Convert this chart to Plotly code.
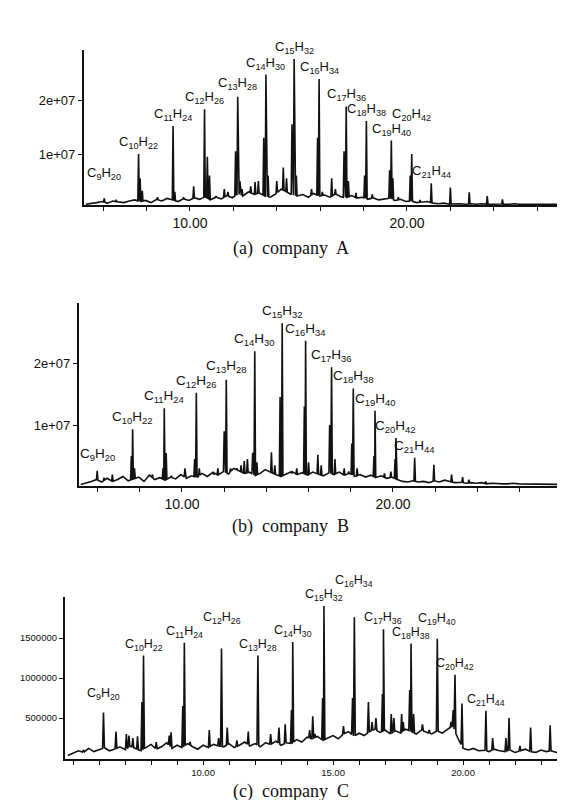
import numpy as np
import plotly.graph_objects as go

W, H = 565, 800

# ---------------- data (retention time in min, abundance) ----------------
carbons = [9, 10, 11, 12, 13, 14, 15, 16, 17, 18, 19, 20, 21]
hydrogens = [20, 22, 24, 26, 28, 30, 32, 34, 36, 38, 40, 42, 44]

# company A (abundance in units of 1e7)
a_main_t = [6.05, 7.63, 9.22, 10.67, 12.20, 13.50, 14.80, 15.95, 17.20, 18.13, 19.28, 20.22, 21.12]
a_main_h = [0.18, 1.00, 1.52, 1.83, 2.06, 2.47, 2.76, 2.39, 1.88, 1.61, 1.25, 1.00, 0.46]
a_minor_t = [6.6, 7.7, 7.8, 8.5, 8.9, 9.3, 9.7, 10.17, 10.8, 10.9, 11.2, 11.58, 11.75, 12.1, 12.3, 12.4,
             12.8, 13.0, 13.15, 13.4, 13.6, 14.0, 14.3, 14.45, 14.7, 14.9, 15.6, 15.88, 16.1, 16.53, 16.7,
             17.1, 17.3, 17.65, 18.05, 18.4, 19.2, 19.35, 19.6, 20.15, 20.6, 22.0, 22.87, 23.7, 24.4]
a_minor_h = [0.15, 0.55, 0.32, 0.20, 0.18, 0.30, 0.20, 0.40, 0.95, 0.60, 0.22, 0.35, 0.30, 1.05, 0.50, 0.35,
             0.40, 0.48, 0.50, 1.30, 0.60, 0.50, 0.75, 0.55, 1.55, 0.60, 0.35, 1.30, 0.30, 0.55, 0.35,
             1.05, 0.50, 0.28, 0.60, 0.25, 0.70, 0.55, 0.20, 0.60, 0.15, 0.38, 0.29, 0.22, 0.16]
a_base_start, a_base_step = 5.2, 0.25
a_base = [0.07, 0.08, 0.10, 0.12, 0.09, 0.13, 0.11, 0.10,
          0.13, 0.15, 0.12, 0.14, 0.10, 0.16, 0.13, 0.18,
          0.15, 0.12, 0.17, 0.14, 0.19, 0.16, 0.21, 0.15,
          0.20, 0.17, 0.23, 0.19, 0.26, 0.22, 0.30, 0.25,
          0.28, 0.22, 0.20, 0.26, 0.35, 0.30, 0.24, 0.22,
          0.25, 0.20, 0.27, 0.22, 0.24, 0.20, 0.26, 0.21,
          0.19, 0.23, 0.18, 0.20, 0.16, 0.19, 0.15, 0.17,
          0.18, 0.14, 0.16, 0.12, 0.13, 0.10, 0.11, 0.12,
          0.09, 0.08, 0.09, 0.07, 0.08, 0.08, 0.07, 0.08,
          0.07, 0.08, 0.07, 0.07, 0.08, 0.07, 0.07, 0.08,
          0.07, 0.07, 0.08, 0.07, 0.07, 0.07, 0.08, 0.07, 0.07, 0.07]

# company B (units of 1e7)
b_main_t = [5.98, 7.66, 9.16, 10.68, 12.10, 13.45, 14.75, 15.86, 17.09, 18.12, 19.15, 20.14, 21.03]
b_main_h = [0.26, 0.93, 1.27, 1.52, 1.73, 2.19, 2.64, 2.36, 1.93, 1.59, 1.23, 0.79, 0.47]
b_minor_t = [6.3, 6.7, 7.6, 7.75, 8.6, 9.1, 9.25, 9.5, 10.14, 10.6, 10.82, 11.5, 11.7, 12.0, 12.3, 12.6,
             12.8, 12.95, 13.1, 13.35, 13.55, 14.24, 14.4, 14.65, 15.2, 15.44, 15.8, 16.0, 16.44, 16.6,
             17.0, 17.25, 17.69, 17.9, 18.05, 18.3, 19.1, 19.6, 19.9, 20.1, 21.94, 22.78, 23.3, 23.6, 24.4]
b_minor_h = [0.15, 0.20, 0.50, 0.30, 0.20, 0.30, 0.55, 0.18, 0.30, 0.45, 0.30, 0.20, 0.30, 0.90, 0.30, 0.30,
             0.35, 0.42, 0.45, 0.55, 0.40, 0.56, 0.35, 1.45, 0.22, 0.30, 1.30, 0.40, 0.52, 0.35,
             1.00, 0.45, 0.30, 0.25, 0.70, 0.30, 0.50, 0.22, 0.25, 0.45, 0.36, 0.20, 0.16, 0.12, 0.09]
b_base_start, b_base_step = 5.2, 0.25
b_base = [0.04, 0.06, 0.09, 0.12, 0.08, 0.14, 0.09, 0.12,
          0.17, 0.10, 0.13, 0.16, 0.09, 0.19, 0.12, 0.15,
          0.11, 0.16, 0.13, 0.20, 0.14, 0.18, 0.15, 0.22,
          0.17, 0.24, 0.19, 0.25, 0.21, 0.30, 0.26, 0.22,
          0.24, 0.18, 0.22, 0.28, 0.24, 0.20, 0.17, 0.21,
          0.25, 0.20, 0.23, 0.19, 0.24, 0.21, 0.18, 0.23,
          0.20, 0.24, 0.19, 0.22, 0.17, 0.20, 0.16, 0.19,
          0.15, 0.18, 0.14, 0.16, 0.12, 0.09, 0.08, 0.10,
          0.08, 0.09, 0.07, 0.10, 0.08, 0.11, 0.09, 0.07,
          0.08, 0.06, 0.07, 0.06, 0.07, 0.05, 0.06, 0.05,
          0.05, 0.05, 0.06, 0.05, 0.05, 0.05, 0.04, 0.05,
          0.05, 0.04, 0.05, 0.05, 0.04]

# company C (units of 1e6)
c_main_t = [6.17, 7.71, 9.28, 10.71, 12.11, 13.45, 14.65, 15.82, 16.94, 18.00, 19.01, 19.69, 20.88]
c_main_h = [0.57, 1.28, 1.44, 1.37, 1.28, 1.45, 1.90, 1.76, 1.61, 1.43, 1.49, 1.04, 0.59]
c_minor_t = [5.4, 6.65, 7.05, 7.15, 7.3, 7.48, 7.65, 8.2, 8.7, 8.77, 9.22, 9.5, 10.24, 10.6, 10.93, 11.3,
             11.74, 12.6, 12.92, 13.16, 13.4, 14.1, 14.22, 14.3, 14.6, 15.4, 15.75, 16.36, 16.5, 16.65,
             16.9, 17.24, 17.34, 17.64, 17.7, 17.95, 18.1, 18.44, 18.7, 19.54, 19.62, 19.96, 21.14,
             21.65, 21.77, 22.19, 22.6, 23.35]
c_minor_h = [0.10, 0.33, 0.30, 0.28, 0.25, 0.27, 0.70, 0.20, 0.28, 0.32, 0.65, 0.20, 0.35, 0.25, 0.38, 0.22,
             0.33, 0.30, 0.38, 0.42, 0.60, 0.35, 0.52, 0.30, 0.75, 0.40, 0.75, 0.70, 0.45, 0.50,
             0.80, 0.55, 0.50, 0.55, 0.45, 0.85, 0.55, 0.42, 0.35, 0.45, 0.60, 0.68, 0.25,
             0.25, 0.50, 0.15, 0.38, 0.41]
c_base_start, c_base_step = 4.8, 0.2
c_base = [0.03, 0.06, 0.09, 0.07, 0.12, 0.08, 0.10, 0.13, 0.09, 0.11,
          0.14, 0.10, 0.15, 0.12, 0.09, 0.13, 0.17, 0.11, 0.14, 0.19,
          0.12, 0.16, 0.13, 0.18, 0.14, 0.11, 0.16, 0.13, 0.17, 0.15,
          0.14, 0.18, 0.13, 0.16, 0.20, 0.15, 0.18, 0.14, 0.19, 0.17,
          0.21, 0.16, 0.19, 0.18, 0.23, 0.20, 0.26, 0.24, 0.27, 0.22,
          0.25, 0.28, 0.24, 0.30, 0.33, 0.27, 0.31, 0.28, 0.33, 0.36,
          0.32, 0.35, 0.30, 0.34, 0.31, 0.36, 0.33, 0.30, 0.35, 0.32,
          0.30, 0.34, 0.31, 0.36, 0.40, 0.25, 0.12, 0.10, 0.12, 0.09,
          0.10, 0.08, 0.11, 0.09, 0.08, 0.10, 0.07, 0.09, 0.11, 0.08,
          0.07, 0.10, 0.08, 0.09, 0.07, 0.10, 0.12, 0.09]

captions = ["(a)  company  A", "(b)  company  B", "(c)  company  C"]


def formula(c, h):
    return "C<sub>%d</sub>H<sub>%d</sub>" % (c, h)


def label_width_em(c, h):
    # C + subscript digits (70%) + H + subscript digits
    return 0.667 + 0.722 + 0.7 * 0.556 * (len(str(c)) + len(str(h)))


# ---------------- helpers ----------------
def trace_xy(start, step, base, pt, ph, scale, w=0.035):
    times = start + step * np.arange(len(base))
    base = np.asarray(base, float)
    peaks = sorted(zip(pt, ph))
    pts = []
    for t, b in zip(times, base):
        if all(abs(t - p) > w * 1.5 for p, _ in peaks):
            pts.append((t, b))
    for t, h in peaks:
        b0 = np.interp(t - w, times, base)
        b1 = np.interp(t + w, times, base)
        pts += [(t - w, b0), (t, h), (t + w, b1)]
    pts.sort(key=lambda p: p[0])
    return [p[0] for p in pts], [p[1] * scale for p in pts]


def dom_x(p0, p1):
    return [p0 / W, p1 / W]


def dom_y(top, bottom):
    return [1 - bottom / H, 1 - top / H]


def place_labels(P, hs):
    """Return a y shift (px) per label so neighbouring horizontal labels do not collide."""
    x0, x1 = P["xdom"]
    yt, yb = P["ydom"]
    xr, yr = P["xr"], P["yr"]
    fs = P["labfont"]
    boxes, shifts = [], []
    for j, (t, h) in enumerate(zip(P["main"][0], hs)):
        cx = x0 + (t - xr[0]) / (xr[1] - xr[0]) * (x1 - x0)
        py = yb - (h - yr[0]) / (yr[1] - yr[0]) * (yb - yt)
        base_shift = P["first_shift"] if j == 0 else 1
        bottom = py - base_shift
        w = label_width_em(carbons[j], hydrogens[j]) * fs
        hh = fs * 1.05
        moved = True
        while moved:
            moved = False
            for (bx0, bx1, by0, by1) in boxes:
                if cx - w / 2 < bx1 + 1 and cx + w / 2 > bx0 - 1 and bottom > by0 and bottom - hh < by1:
                    bottom = by0 - 0.5
                    moved = True
        boxes.append((cx - w / 2, cx + w / 2, bottom - hh, bottom))
        shifts.append(py - bottom)
    return shifts


fig = go.Figure()

panels = [
    dict(base=(a_base_start, a_base_step, a_base), main=(a_main_t, a_main_h), minor=(a_minor_t, a_minor_h),
         scale=1e7, xdom=(76, 563), ydom=(42, 197), xr=[5.115, 27.56], yr=[0.0556e7, 2.926e7],
         xtv=list(range(6, 27, 2)), xlab={10: "10.00", 20: "20.00"}, ytv=[1e7, 2e7], ytt=["1e+07", "2e+07"],
         tickfont=13, xtickfont=14, labfont=13, cap_y=240, first_shift=14),
    dict(base=(b_base_start, b_base_step, b_base), main=(b_main_t, b_main_h), minor=(b_minor_t, b_minor_h),
         scale=1e7, xdom=(71, 563), ydom=(295, 478), xr=[5.118, 28.44], yr=[0.016e7, 2.968e7],
         xtv=list(range(6, 29, 2)), xlab={10: "10.00", 20: "20.00"}, ytv=[1e7, 2e7], ytt=["1e+07", "2e+07"],
         tickfont=13, xtickfont=14, labfont=13.5, cap_y=518, first_shift=6),
    dict(base=(c_base_start, c_base_step, c_base), main=(c_main_t, c_main_h), minor=(c_minor_t, c_minor_h),
         scale=1e6, xdom=(57, 565), ydom=(589, 751), xr=[4.69, 24.23], yr=[-0.0125e6, 2.0125e6],
         xtv=list(range(5, 25)), xlab={10: "10.00", 15: "15.00", 20: "20.00"},
         ytv=[5e5, 1e6, 1.5e6], ytt=["500000", "1000000", "1500000"],
         tickfont=9.5, xtickfont=9.5, labfont=12.5, cap_y=783, first_shift=8),
]

for i, P in enumerate(panels):
    k = "" if i == 0 else str(i + 1)
    xa, ya = "x" + k, "y" + k
    pt = list(P["main"][0]) + list(P["minor"][0])
    ph = list(P["main"][1]) + list(P["minor"][1])
    xs, ys = trace_xy(*P["base"], pt, ph, P["scale"])
    fig.add_trace(go.Scatter(x=xs, y=ys, mode="lines", xaxis=xa, yaxis=ya,
                             line=dict(color="#111111", width=1.6), hoverinfo="skip", showlegend=False))
    fig.update_layout(**{
        "xaxis" + k: dict(domain=dom_x(*P["xdom"]), range=P["xr"], anchor=ya, showline=True,
                          linecolor="#111", linewidth=1.6, ticks="outside", ticklen=4, tickwidth=1.3,
                          tickcolor="#111", tickvals=P["xtv"],
                          ticktext=[P["xlab"].get(v, "") for v in P["xtv"]],
                          tickfont=dict(family="Liberation Sans", size=P["xtickfont"], color="#111"),
                          showgrid=False, zeroline=False, fixedrange=True),
        "yaxis" + k: dict(domain=dom_y(*P["ydom"]), range=P["yr"], anchor=xa, showline=True,
                          linecolor="#111", linewidth=2.2, ticks="outside", ticklen=4, tickwidth=1.3,
                          tickcolor="#111", tickvals=P["ytv"], ticktext=P["ytt"],
                          tickfont=dict(family="Liberation Sans", size=P["tickfont"], color="#111"),
                          showgrid=False, zeroline=False, fixedrange=True),
    })
    hs = [h * P["scale"] for h in P["main"][1]]
    shifts = place_labels(P, hs)
    for j, (t, h) in enumerate(zip(P["main"][0], hs)):
        fig.add_annotation(x=t, y=h, xref=xa, yref=ya, text=formula(carbons[j], hydrogens[j]),
                           showarrow=False, xanchor="center", yanchor="bottom", yshift=shifts[j],
                           font=dict(family="Liberation Sans", size=P["labfont"], color="#111"))
    fig.add_annotation(x=0.5, y=1 - P["cap_y"] / H, xref="paper", yref="paper", text=captions[i],
                       showarrow=False, xanchor="center", yanchor="middle",
                       font=dict(family="Liberation Serif", size=18, color="#111"))

fig.update_layout(width=W, height=H, margin=dict(l=0, r=0, t=0, b=0),
                  paper_bgcolor="white", plot_bgcolor="white")

fig.write_html("out.html")
